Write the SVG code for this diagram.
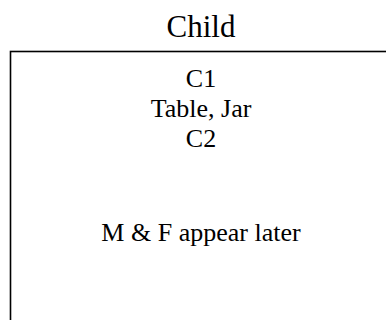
<svg xmlns="http://www.w3.org/2000/svg" width="386" height="320" viewBox="0 0 386 320">
  <style>
    text { font-family: "Liberation Serif", "Times New Roman", serif; fill: #000; text-anchor: middle; }
    .title { font-size: 31px; }
    .body { font-size: 26px; }
    .frame { fill: #fff; stroke: #000; stroke-width: 1.6; }
  </style>
  <rect width="386" height="320" fill="#fff"/>
  <g id="child">
    <text class="title" x="201" y="37">Child</text>
    <rect class="frame" x="10.5" y="51.5" width="390" height="290"/>
    <text class="body" x="201" y="87">C1</text>
    <text class="body" x="201" y="117">Table, Jar</text>
    <text class="body" x="201" y="147">C2</text>
    <text class="body" x="201" y="241">M &amp; F appear later</text>
  </g>
  <g id="connectors"/>
</svg>
